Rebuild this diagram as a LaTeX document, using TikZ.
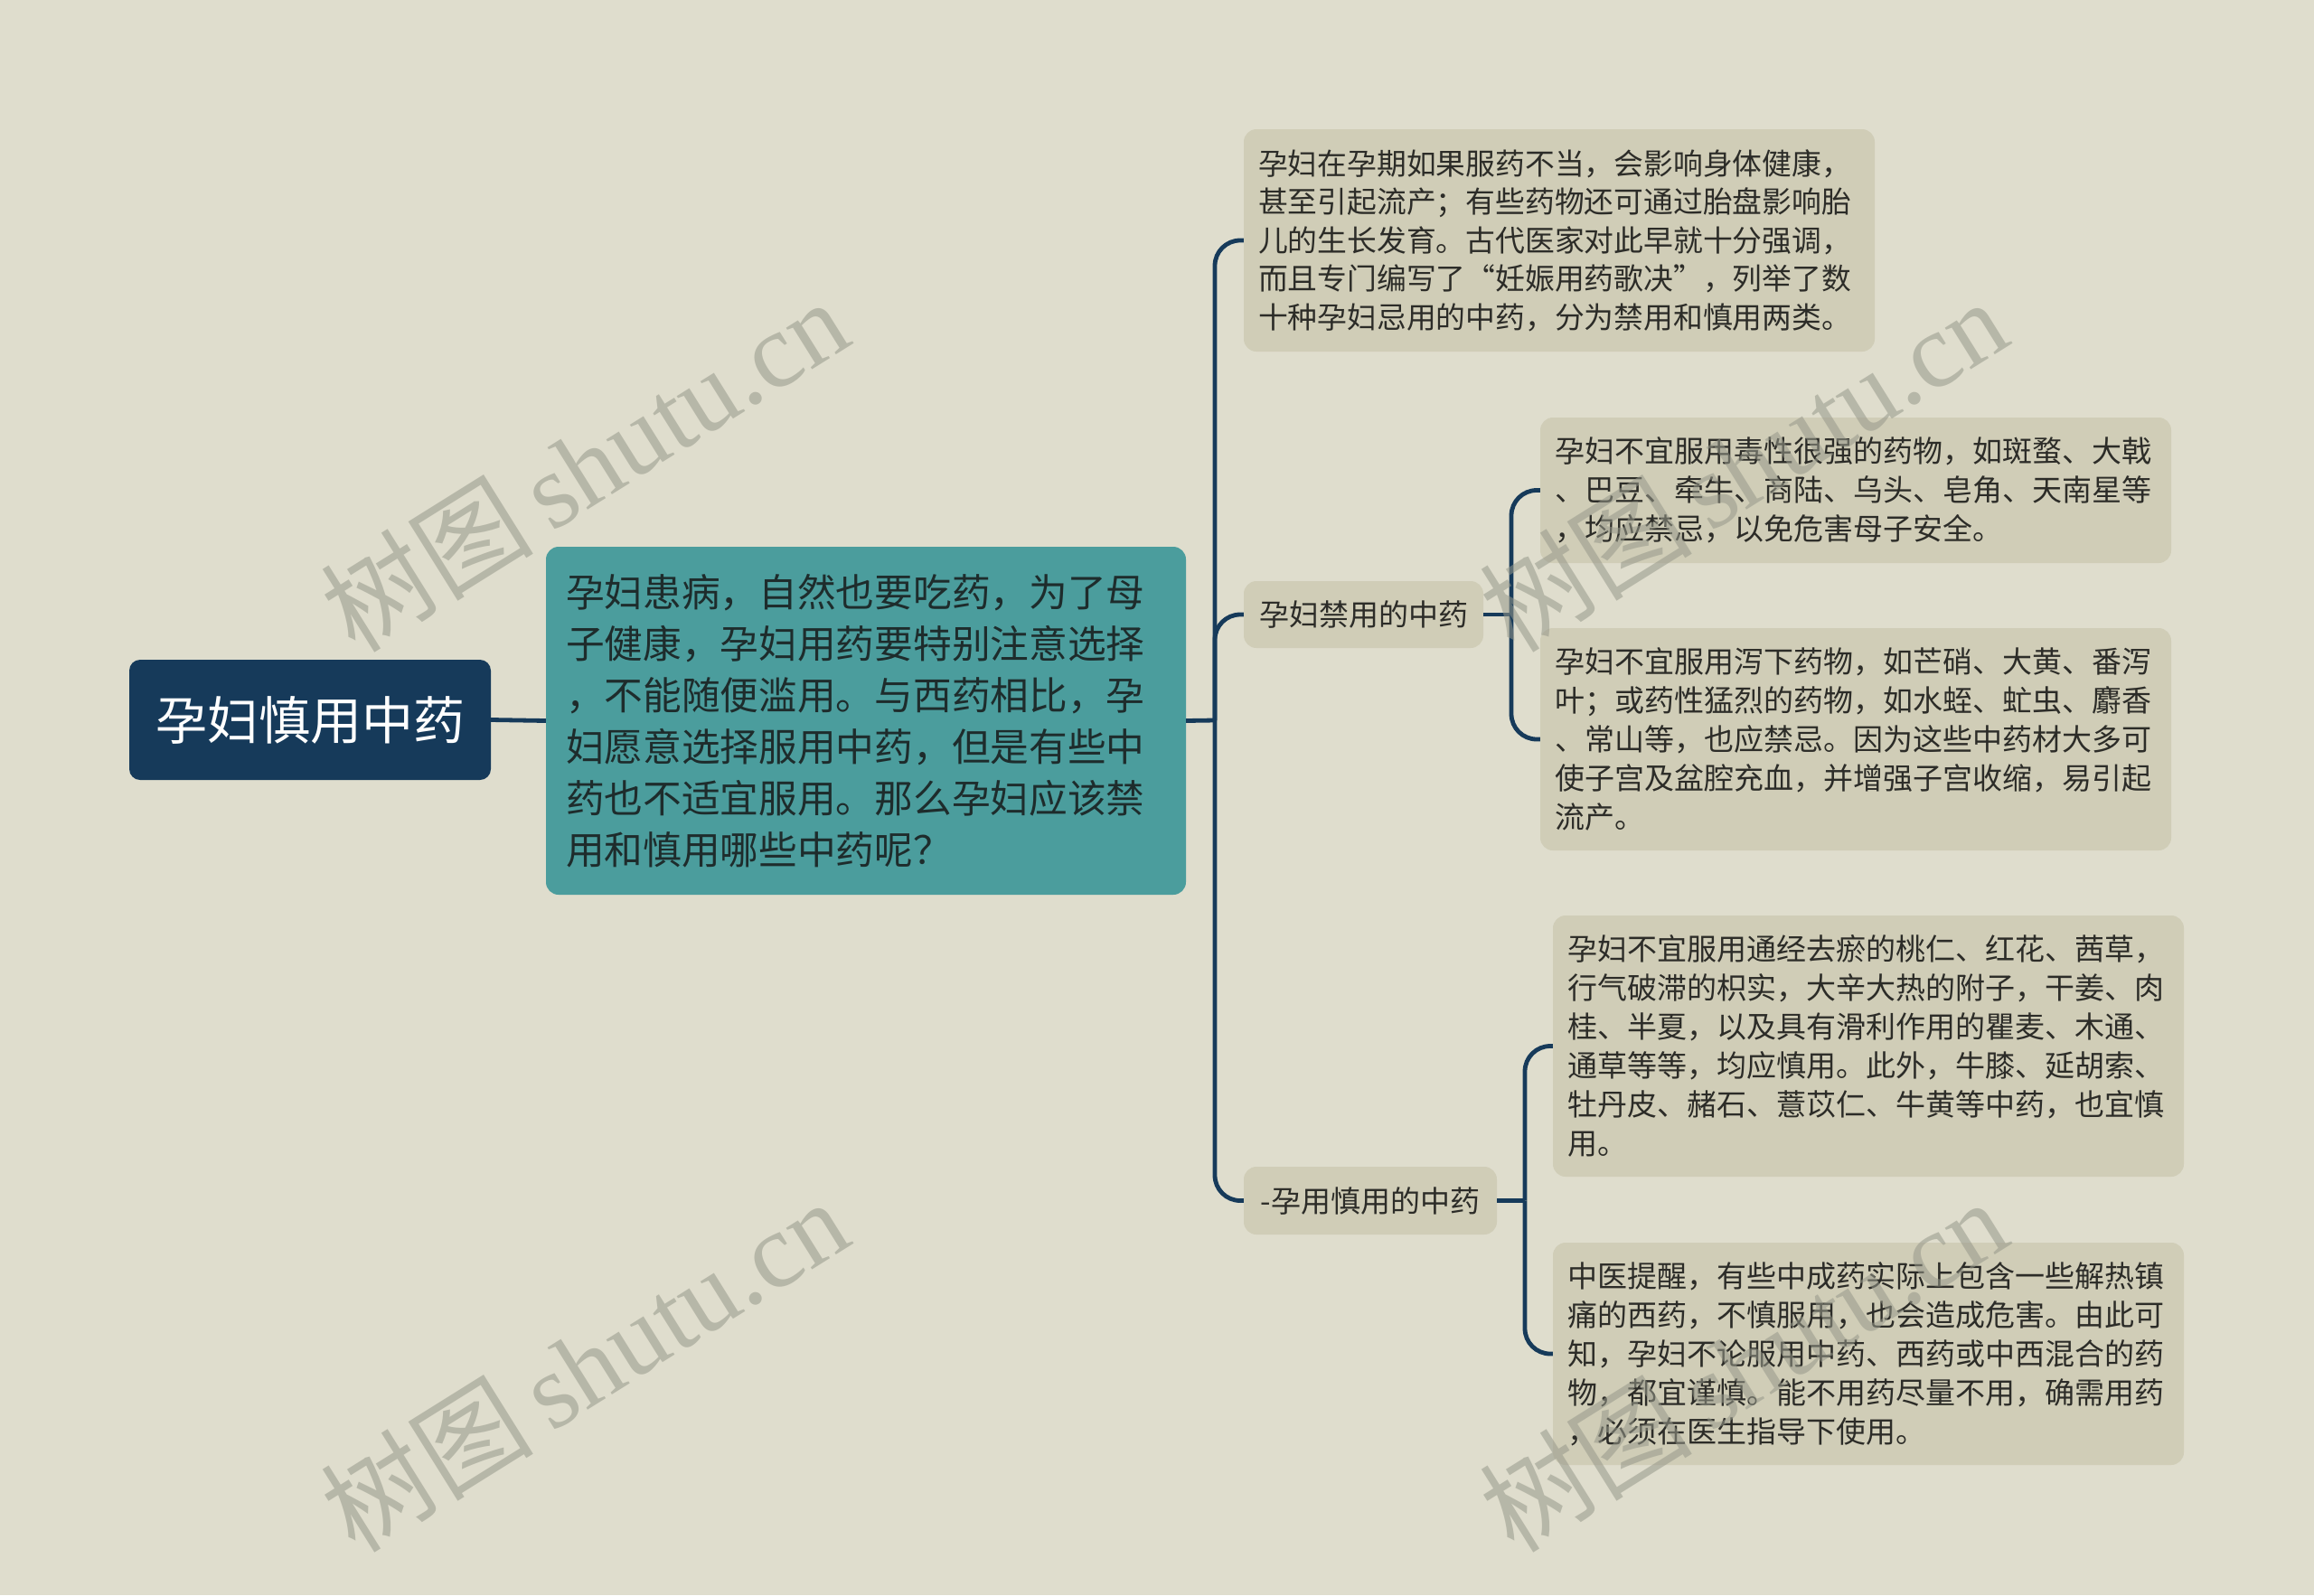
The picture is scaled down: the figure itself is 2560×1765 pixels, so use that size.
\documentclass[tikz,border=0pt]{standalone}
\usepackage{fontspec}
\setmainfont{Noto Sans CJK SC}
\newfontfamily\wmlat{Liberation Serif}
\newfontfamily\wmcjk{Noto Sans CJK SC}
\definecolor{bgc}{RGB}{223,221,205}
\definecolor{navy}{RGB}{22,58,90}
\definecolor{tealc}{RGB}{75,157,157}
\definecolor{leaf}{RGB}{208,205,183}
\definecolor{txt}{RGB}{44,44,40}
\definecolor{tealtxt}{RGB}{30,44,44}
\definecolor{wm}{RGB}{150,152,138}
\tikzset{
  conn/.style={draw=navy, line width=4.8pt, rounded corners=28pt},
  rootbox/.style={fill=navy, rounded corners=12pt, minimum width=400pt, minimum height=133pt, inner sep=0pt, text=white, font=\fontsize{57}{66}\selectfont, align=center},
  mainbox/.style={fill=tealc, rounded corners=14pt, text width=664pt, inner xsep=22pt, inner ysep=0pt, minimum height=385pt, text=tealtxt, font=\fontsize{42.7}{57}\selectfont, align=left},
  leafbox/.style={fill=leaf, rounded corners=14pt, text width=666pt, inner xsep=16pt, inner ysep=0pt, text=txt, font=\fontsize{33}{43}\selectfont, align=left},
  labbox/.style={fill=leaf, rounded corners=14pt, inner xsep=0pt, inner ysep=0pt, text=txt, font=\fontsize{33}{40}\selectfont, align=center},
  wmark/.style={text=wm, opacity=0.55, rotate=32, inner sep=0pt}
}
\begin{document}
\begin{tikzpicture}[x=1pt,y=-1pt]
\fill[bgc] (0,0) rectangle (2560,1765);
\useasboundingbox (0,0) rectangle (2560,1765);

% nodes
\node[rootbox] (root) at (343,796.5) {孕妇慎用中药};
\node[mainbox] (main) at (958,797.5) {孕妇患病，自然也要吃药，为了母\\子健康，孕妇用药要特别注意选择\\，不能随便滥用。与西药相比，孕\\妇愿意选择服用中药，但是有些中\\药也不适宜服用。那么孕妇应该禁\\用和慎用哪些中药呢？};

\node[leafbox, font=\fontsize{32.8}{42.5}\selectfont, minimum height=246pt] (b1) at (1725,266) {孕妇在孕期如果服药不当，会影响身体健康，\\甚至引起流产；有些药物还可通过胎盘影响胎\\儿的生长发育。古代医家对此早就十分强调，\\而且专门编写了“妊娠用药歌决”，列举了数\\十种孕妇忌用的中药，分为禁用和慎用两类。};

\node[labbox, minimum width=265pt, minimum height=74pt] (l1) at (1508.5,680) {孕妇禁用的中药};
\node[labbox, minimum width=280pt, minimum height=75pt] (l2) at (1516,1328.5) {-孕用慎用的中药};

\node[leafbox, minimum height=161pt] (b2a) at (2053,542.5) {孕妇不宜服用毒性很强的药物，如斑蝥、大戟\\、巴豆、牵牛、商陆、乌头、皂角、天南星等\\，均应禁忌，以免危害母子安全。};
\node[leafbox, minimum height=246pt] (b2b) at (2053,818) {孕妇不宜服用泻下药物，如芒硝、大黄、番泻\\叶；或药性猛烈的药物，如水蛭、虻虫、麝香\\、常山等，也应禁忌。因为这些中药材大多可\\使子宫及盆腔充血，并增强子宫收缩，易引起\\流产。};

\node[leafbox, minimum height=289pt] (b3a) at (2067,1157.5) {孕妇不宜服用通经去瘀的桃仁、红花、茜草，\\行气破滞的枳实，大辛大热的附子，干姜、肉\\桂、半夏，以及具有滑利作用的瞿麦、木通、\\通草等等，均应慎用。此外，牛膝、延胡索、\\牡丹皮、赭石、薏苡仁、牛黄等中药，也宜慎\\用。};
\node[leafbox, minimum height=246pt] (b3b) at (2067,1498) {中医提醒，有些中成药实际上包含一些解热镇\\痛的西药，不慎服用，也会造成危害。由此可\\知，孕妇不论服用中药、西药或中西混合的药\\物，都宜谨慎。能不用药尽量不用，确需用药\\，必须在医生指导下使用。};

% junction coordinates
\coordinate (t) at (1344,797);
\coordinate (s1) at (1672,680);
\coordinate (s2) at (1687,1328.5);

% connectors
\draw[conn] (root.east) -- (main.west);
\draw[conn] (main.east) -- (t);
\draw[conn] (b1.west) -| (t);
\draw[conn] (l1.west) -| (t);
\draw[conn] (l2.west) -| (t);
\draw[conn] (l1.east) -- (s1);
\draw[conn] (b2a.west) -| (s1);
\draw[conn] (b2b.west) -| (s1);
\draw[conn] (l2.east) -- (s2);
\draw[conn] (b3a.west) -| (s2);
\draw[conn] (b3b.west) -| (s2);

% watermarks
\node[wmark] (w1) at (646,514) {\fontsize{118}{118}\selectfont\wmcjk 树图\,\wmlat shutu.cn};
\node[wmark] (w2) at (1928,514) {\fontsize{118}{118}\selectfont\wmcjk 树图\,\wmlat shutu.cn};
\node[wmark] (w3) at (646,1510) {\fontsize{118}{118}\selectfont\wmcjk 树图\,\wmlat shutu.cn};
\node[wmark] (w4) at (1928,1510) {\fontsize{118}{118}\selectfont\wmcjk 树图\,\wmlat shutu.cn};
\end{tikzpicture}
\end{document}
